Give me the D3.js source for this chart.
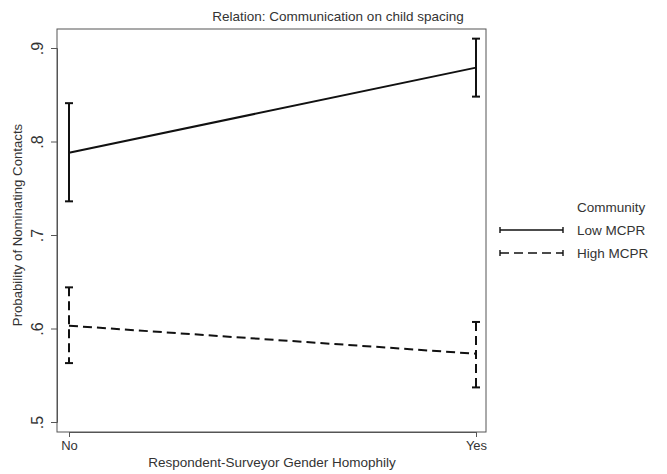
<!DOCTYPE html>
<html>
<head>
<meta charset="utf-8">
<script src="https://cdn.jsdelivr.net/npm/d3@7"></script>
<style>
  html, body { margin: 0; padding: 0; background: #fff; }
  svg { display: block; font-family: "Liberation Sans", Arial, sans-serif; }
</style>
</head>
<body>
<svg id="chart" width="667" height="474"></svg>
<script>
// Predicted probabilities with 95% confidence intervals
const categories = ["No", "Yes"];
const seriesNames = ["Low MCPR", "High MCPR"];
const lowEstimate = [0.788, 0.879];
const lowUpper = [0.841, 0.910];
const lowLower = [0.736, 0.848];
const highEstimate = [0.603, 0.573];
const highUpper = [0.644, 0.607];
const highLower = [0.563, 0.537];
const yTicks = [0.5, 0.6, 0.7, 0.8, 0.9];
const yTickLabels = [".5", ".6", ".7", ".8", ".9"];

const series = [
  { name: seriesNames[0], est: lowEstimate, up: lowUpper, lo: lowLower, dash: null },
  { name: seriesNames[1], est: highEstimate, up: highUpper, lo: highLower, dash: "9,5" }
];

const svg = d3.select("#chart");
const frame = { left: 57, right: 486, top: 29, bottom: 432 };
const textColor = "#333";
const fs = 13.5;

const x = d3.scalePoint().domain(categories).range([69, 476]);
const y = d3.scaleLinear().domain([0.5, 0.9]).range([422, 48]);

// plot region border
svg.append("rect")
  .attr("x", frame.left).attr("y", frame.top)
  .attr("width", frame.right - frame.left).attr("height", frame.bottom - frame.top)
  .attr("fill", "none").attr("stroke", "#555").attr("stroke-width", 1);

// y axis
const yAxis = svg.append("g")
  .attr("transform", `translate(${frame.left},0)`)
  .call(d3.axisLeft(y).tickValues(yTicks).tickSize(6).tickFormat((d, i) => yTickLabels[i]));
yAxis.select(".domain").attr("stroke", "#555");
yAxis.selectAll(".tick line").attr("stroke", "#555");
yAxis.selectAll(".tick text")
  .attr("fill", textColor)
  .attr("font-size", 16)
  .attr("text-anchor", "middle")
  .attr("transform", "rotate(-90)")
  .attr("x", 0).attr("y", -14).attr("dy", "0")
  .attr("dominant-baseline", "auto");

// x axis
const xAxis = svg.append("g")
  .attr("transform", `translate(0,${frame.bottom})`)
  .call(d3.axisBottom(x).tickSize(5));
xAxis.select(".domain").attr("stroke", "#555");
xAxis.selectAll(".tick line").attr("stroke", "#555");
xAxis.selectAll(".tick text").attr("fill", textColor).attr("font-size", 13).attr("y", 9);

// axis titles
svg.append("text")
  .attr("x", 272).attr("y", 467)
  .attr("text-anchor", "middle").attr("font-size", fs).attr("fill", textColor)
  .text("Respondent-Surveyor Gender Homophily");
svg.append("text")
  .attr("transform", "translate(22,225) rotate(-90)")
  .attr("text-anchor", "middle").attr("font-size", 13.2).attr("fill", textColor)
  .text("Probability of Nominating Contacts");

// title
svg.append("text")
  .attr("x", 338).attr("y", 21)
  .attr("text-anchor", "middle").attr("font-size", fs).attr("fill", textColor)
  .text("Relation: Communication on child spacing");

// series lines and CI bars
const line = d3.line().x((d, i) => x(categories[i])).y(d => y(d));
const capW = 4;
series.forEach(s => {
  svg.append("path")
    .attr("d", line(s.est))
    .attr("fill", "none").attr("stroke", "#111").attr("stroke-width", 2)
    .attr("stroke-dasharray", s.dash);
  categories.forEach((c, i) => {
    const cx = x(c);
    svg.append("line")
      .attr("x1", cx).attr("x2", cx).attr("y1", y(s.up[i])).attr("y2", y(s.lo[i]))
      .attr("stroke", "#111").attr("stroke-width", 2).attr("stroke-dasharray", s.dash);
    [s.up[i], s.lo[i]].forEach(v => {
      svg.append("line")
        .attr("x1", cx - capW).attr("x2", cx + capW).attr("y1", y(v)).attr("y2", y(v))
        .attr("stroke", "#111").attr("stroke-width", 2);
    });
  });
});

// legend
const legend = svg.append("g");
legend.append("text")
  .attr("x", 577).attr("y", 212)
  .attr("font-size", fs).attr("fill", textColor)
  .text("Community");
series.forEach((s, i) => {
  const ly = 230 + i * 23;
  legend.append("line")
    .attr("x1", 500).attr("x2", 563).attr("y1", ly).attr("y2", ly)
    .attr("stroke", "#111").attr("stroke-width", 1.6).attr("stroke-dasharray", s.dash);
  [500, 563].forEach(lx => {
    legend.append("line")
      .attr("x1", lx).attr("x2", lx).attr("y1", ly - 3).attr("y2", ly + 3)
      .attr("stroke", "#111").attr("stroke-width", 1.4);
  });
  legend.append("text")
    .attr("x", 577).attr("y", ly + 5)
    .attr("font-size", fs).attr("fill", textColor)
    .text(s.name);
});
</script>
</body>
</html>
